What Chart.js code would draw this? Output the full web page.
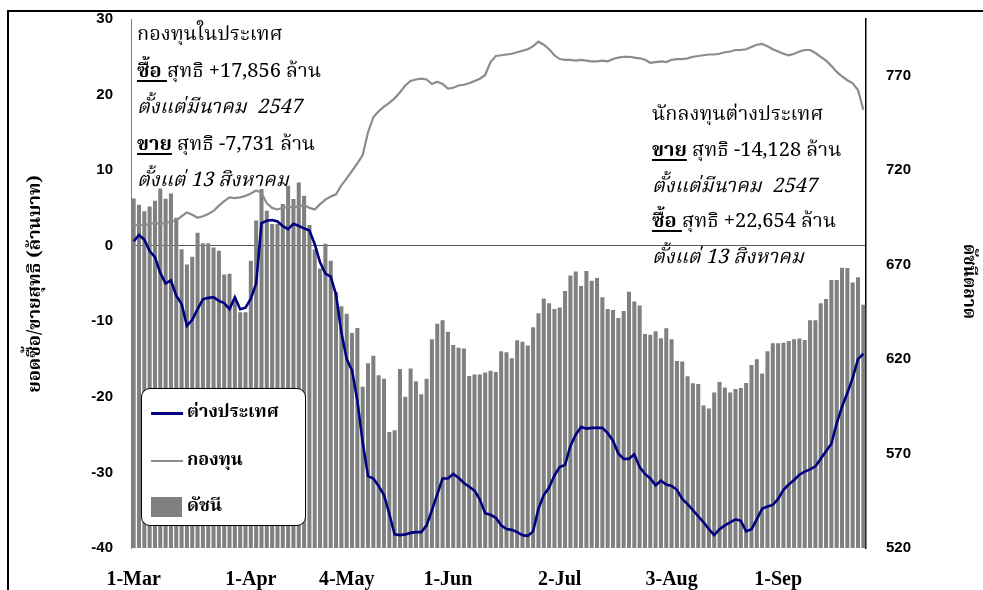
<!DOCTYPE html>
<html>
<head>
<meta charset="utf-8">
<script src="https://cdn.jsdelivr.net/npm/chart.js@4.4.1/dist/chart.umd.min.js"></script>
<style>
  html, body { margin: 0; padding: 0; background: #fff; }
  #wrap { position: relative; width: 983px; height: 590px; overflow: hidden; background: #fff; }
  #frame { position: absolute; left: 7px; top: 10px; width: 1300px; height: 900px; border: 2px solid #000; box-sizing: border-box; pointer-events: none; }
  #chart { position: absolute; left: 0; top: 0; }
  .thai { font-family: "Norasi", "Noto Serif Thai", "Tlwg Typo", "Garuda", "Loma", "Noto Sans Thai", "Liberation Serif", serif; }
  .note { position: absolute; font-size: 20px; color: #000; white-space: nowrap; }
  .note i { font-style: italic; }
  .note u { text-decoration: underline; text-underline-offset: 3px; }
  .note b { font-weight: bold; }
  #legend { position: absolute; left: 141px; top: 388px; width: 165px; height: 138px; border: 1px solid #000; border-radius: 9px; background: #fff; box-sizing: border-box; }
  .lg { position: absolute; left: 9px; height: 30px; font-size: 18px; font-weight: bold; white-space: nowrap; }
  .lg .sw { position: absolute; left: 0; }
  .lg .tx { position: absolute; left: 36px; top: 0; line-height: 30px; }
  .ytitle { position: absolute; font-weight: bold; white-space: nowrap; transform-origin: center center; }
</style>
</head>
<body>
<div id="wrap">
  <canvas id="chart" width="983" height="590"></canvas>
  <div id="frame"></div>

  <div class="note thai" style="left:137px; top:17px; line-height:36.5px;">
    <div>กองทุนในประเทศ</div>
    <div><b><u>ซื้อ </u></b>สุทธิ +17,856 ล้าน</div>
    <div><i>ตั้งแต่มีนาคม&nbsp; 2547</i></div>
    <div><b><u>ขาย</u></b> สุทธิ -7,731 ล้าน</div>
    <div><i>ตั้งแต่ 13 สิงหาคม</i></div>
  </div>

  <div class="note thai" style="left:652px; top:98px; line-height:35.8px;">
    <div>นักลงทุนต่างประเทศ</div>
    <div><b><u>ขาย</u></b> สุทธิ -14,128 ล้าน</div>
    <div><i>ตั้งแต่มีนาคม&nbsp; 2547</i></div>
    <div><b><u>ซื้อ </u></b>สุทธิ +22,654 ล้าน</div>
    <div><i>ตั้งแต่ 13 สิงหาคม</i></div>
  </div>

  <div id="legend" class="thai"></div>

  <div id="ytL" class="ytitle thai" style="font-size:18.5px;"></div>
  <div id="ytR" class="ytitle thai" style="font-size:17px;"></div>
</div>

<script>
// ---------------- DATA ----------------
const dates = [
  "1-Mar","2-Mar","3-Mar","4-Mar","8-Mar","9-Mar","10-Mar","11-Mar","12-Mar","15-Mar","16-Mar","17-Mar","18-Mar","19-Mar","22-Mar","23-Mar","24-Mar","25-Mar","26-Mar","29-Mar","30-Mar","31-Mar",
  "1-Apr","2-Apr","5-Apr","7-Apr","8-Apr","9-Apr","12-Apr","16-Apr","19-Apr","20-Apr","21-Apr","22-Apr","23-Apr","26-Apr","27-Apr","28-Apr","29-Apr","30-Apr",
  "4-May","6-May","7-May","10-May","11-May","12-May","13-May","14-May","17-May","18-May","19-May","20-May","21-May","24-May","25-May","26-May","27-May","28-May","31-May",
  "1-Jun","3-Jun","4-Jun","7-Jun","8-Jun","9-Jun","10-Jun","11-Jun","14-Jun","15-Jun","16-Jun","17-Jun","18-Jun","21-Jun","22-Jun","23-Jun","24-Jun","25-Jun","28-Jun","29-Jun","30-Jun",
  "2-Jul","5-Jul","6-Jul","7-Jul","8-Jul","9-Jul","12-Jul","13-Jul","14-Jul","15-Jul","16-Jul","19-Jul","20-Jul","21-Jul","22-Jul","23-Jul","26-Jul","27-Jul","28-Jul","29-Jul","30-Jul",
  "3-Aug","4-Aug","5-Aug","6-Aug","9-Aug","10-Aug","11-Aug","13-Aug","16-Aug","17-Aug","18-Aug","19-Aug","20-Aug","23-Aug","24-Aug","25-Aug","26-Aug","27-Aug","30-Aug","31-Aug",
  "1-Sep","2-Sep","3-Sep","6-Sep","7-Sep","8-Sep","9-Sep","10-Sep","13-Sep","14-Sep","15-Sep","16-Sep","17-Sep","20-Sep","21-Sep","22-Sep","23-Sep"
];

const monthTickLabels = ["1-Mar","1-Apr","4-May","1-Jun","2-Jul","3-Aug","1-Sep"];

// Net buy/sell, foreign investors (million baht, left axis)
const foreignNet = [
  0.6, 1.4, 0.8, -0.7, -1.5, -3.6, -5.0, -4.6, -6.6, -7.7,
  -10.6, -9.8, -8.4, -7.1, -6.9, -6.8, -7.3, -7.6, -8.4, -6.8,
  -8.4, -8.2, -7.0, -5.0, 3.0, 3.3, 3.4, 3.2, 2.6, 2.2,
  2.9, 2.6, 2.3, 2.0, 0.2, -2.2, -3.7, -4.1, -6.5, -11.5,
  -15.0, -16.5, -20.5, -26.0, -30.5, -30.8, -31.8, -33.0, -35.5, -38.2,
  -38.3, -38.2, -38.0, -37.9, -37.9, -37.0, -35.0, -32.9, -30.8, -30.8,
  -30.2, -30.7, -31.4, -31.9, -32.4, -33.6, -35.4, -35.6, -36.0, -37.0,
  -37.5, -37.6, -37.9, -38.3, -38.4, -37.8, -34.8, -33.0, -32.0, -30.4,
  -29.3, -29.0, -26.5, -25.0, -24.0, -24.2, -24.1, -24.1, -24.1, -24.8,
  -25.8, -27.5, -28.2, -28.2, -27.6, -29.3, -30.2, -30.8, -31.7, -31.1,
  -31.6, -31.8, -32.3, -33.5, -34.2, -35.0, -35.8, -36.6, -37.5, -38.3,
  -37.5, -37.0, -36.6, -36.2, -36.4, -37.8, -37.5, -36.2, -34.8, -34.5,
  -34.3, -33.5, -32.3, -31.6, -31.0, -30.3, -29.9, -29.6, -29.2, -28.2,
  -27.2, -26.2, -23.5, -21.3, -19.5, -17.5, -15.0, -14.3
];

// Net buy/sell, domestic funds (million baht, left axis)
const fundNet = [
  2.6, 2.8, 2.7, 2.9, 3.0, 2.9, 3.0, 3.2, 3.3, 3.9,
  4.4, 4.1, 3.7, 3.9, 4.2, 4.6, 5.3, 5.9, 6.4, 6.3,
  6.4, 6.6, 6.9, 7.3, 7.0, 5.6, 5.0, 4.8, 5.0, 5.1,
  5.1, 5.2, 5.4, 5.0, 4.8, 5.5, 6.1, 6.5, 6.8, 8.0,
  8.9, 9.9, 10.9, 12.0, 15.0, 17.0, 17.8, 18.4, 18.9, 19.5,
  20.3, 21.2, 21.8, 22.0, 22.1, 22.0, 21.4, 21.7, 21.4, 20.8,
  20.9, 21.2, 21.3, 21.5, 21.8, 22.1, 22.6, 24.3, 25.1, 25.2,
  25.3, 25.4, 25.6, 25.8, 26.0, 26.4, 27.0, 26.6, 26.0, 25.2,
  24.7, 24.6, 24.6, 24.5, 24.6, 24.5, 24.4, 24.4, 24.5, 24.4,
  24.7, 24.9, 25.0, 25.0, 24.9, 24.8, 24.6, 24.2, 24.3, 24.4,
  24.3, 24.6, 24.7, 24.7, 24.8, 25.0, 25.1, 25.2, 25.3, 25.3,
  25.4, 25.6, 25.7, 25.9, 25.9, 26.0, 26.3, 26.6, 26.7, 26.4,
  26.0, 25.7, 25.4, 25.2, 25.4, 25.7, 25.9, 25.9, 25.5, 25.0,
  24.5, 23.8, 23.0, 22.4, 21.9, 21.5, 20.6, 18.0
];

// SET index (right axis)
const setIndex = [
  705.0, 701.7, 698.2, 700.8, 703.8, 710.3, 704.9, 707.7, 694.8, 678.1,
  670.0, 674.2, 686.9, 681.3, 681.3, 679.1, 677.4, 664.7, 665.2, 652.0,
  644.8, 644.8, 672.1, 693.3, 710.0, 698.5, 691.5, 691.5, 702.1, 711.8,
  704.7, 713.5, 706.5, 691.0, 678.0, 668.0, 681.0, 672.0, 655.5, 648.0,
  644.0, 633.8, 636.5, 605.4, 617.8, 621.8, 611.4, 609.6, 581.4, 582.3,
  614.7, 600.0, 615.0, 608.3, 601.4, 609.6, 630.5, 638.7, 640.5, 634.5,
  627.5, 626.0, 625.6, 611.1, 611.8, 611.8, 612.9, 613.8, 613.2, 624.2,
  623.6, 620.5, 630.0, 629.2, 627.2, 636.9, 644.2, 652.0, 649.6, 646.5,
  647.3, 656.0, 664.2, 666.4, 658.7, 666.6, 661.5, 662.9, 652.7, 646.5,
  646.0, 641.8, 645.4, 655.6, 650.5, 648.4, 633.3, 632.9, 634.7, 631.0,
  636.3, 630.5, 619.0, 618.7, 610.9, 607.2, 606.8, 595.4, 593.8, 602.3,
  607.8, 605.0, 602.3, 604.1, 604.7, 607.4, 616.9, 619.9, 612.3, 624.2,
  628.4, 628.4, 628.7, 629.5, 630.5, 630.9, 630.1, 640.5, 640.5, 649.6,
  651.8, 661.8, 661.8, 668.4, 668.2, 660.5, 663.3, 648.7
];

const leftTicks = [-40, -30, -20, -10, 0, 10, 20, 30];
const rightTicks = [520, 570, 620, 670, 720, 770];

const seriesNames = ["ต่างประเทศ", "กองทุน", "ดัชนี"];
const leftTitle = "ยอดซื้อ/ขายสุทธิ (ล้านบาท)";
const rightTitle = "ดัชนีตลาด";

// ---------------- CHART ----------------
const BLUE = "#000080", LINEGRAY = "#8c8c8c", BARGRAY = "#808080";
const tickFont = { family: "'Liberation Sans', Arial, sans-serif", size: 15, weight: "bold" };

const chart = new Chart(document.getElementById("chart"), {
  type: "bar",
  data: {
    labels: dates,
    datasets: [
      { type: "line", label: seriesNames[0], data: foreignNet, yAxisID: "y",
        borderColor: BLUE, borderWidth: 2.6, pointRadius: 0, tension: 0, order: 0 },
      { type: "line", label: seriesNames[1], data: fundNet, yAxisID: "y",
        borderColor: LINEGRAY, borderWidth: 2.2, pointRadius: 0, tension: 0, order: 1 },
      { type: "bar", label: seriesNames[2], data: setIndex, yAxisID: "y1",
        backgroundColor: BARGRAY, borderWidth: 0, barPercentage: 0.76, categoryPercentage: 1.0, order: 2 }
    ]
  },
  options: {
    responsive: false,
    animation: false,
    devicePixelRatio: 1,
    layout: { padding: { top: 19, left: 0, right: 0, bottom: 0 } },
    plugins: { legend: { display: false }, tooltip: { enabled: false } },
    scales: {
      x: {
        type: "category",
        offset: true,
        grid: { display: false },
        border: { display: false },
        ticks: {
          autoSkip: false, maxRotation: 0, minRotation: 0, padding: 12,
          color: "#000",
          font: { family: "'Liberation Serif', 'Times New Roman', serif", size: 20, weight: "bold" },
          callback: function (val, idx) {
            const l = dates[idx];
            return monthTickLabels.includes(l) ? l : "";
          }
        },
        afterFit: s => { s.height = 42; s.paddingLeft = 0; s.paddingRight = 0; }
      },
      y: {
        position: "left",
        min: -40, max: 30,
        z: 1,
        afterBuildTicks: s => { s.ticks = leftTicks.map(v => ({ value: v })); },
        grid: {
          drawTicks: false,
          color: c => (c.tick && c.tick.value === 0) ? "#5a5a5a" : "rgba(0,0,0,0)",
          lineWidth: 1
        },
        border: { display: true, color: "#808080", width: 1 },
        ticks: { padding: 18, color: "#000", font: tickFont },
        afterFit: s => { s.width = 131; s.paddingTop = 0; s.paddingBottom = 0; }
      },
      y1: {
        position: "right",
        min: 520, max: 800,
        afterBuildTicks: s => { s.ticks = rightTicks.map(v => ({ value: v })); },
        grid: { drawOnChartArea: false, drawTicks: false },
        border: { display: true, color: "#000", width: 1.5 },
        ticks: { padding: 20, color: "#000", font: tickFont },
        afterFit: s => { s.width = 117; s.paddingTop = 0; s.paddingBottom = 0; }
      }
    }
  }
});

// ---------------- HTML legend (built from the chart's datasets) ----------------
(function buildLegend() {
  const lg = document.getElementById("legend");
  const rowsTop = [9, 57, 103];
  chart.data.datasets.forEach((ds, i) => {
    const row = document.createElement("div");
    row.className = "lg";
    row.style.top = rowsTop[i] + "px";
    const sw = document.createElement("div");
    sw.className = "sw";
    if (ds.type === "line") {
      sw.style.top = "14px"; sw.style.width = "32px"; sw.style.height = "0";
      sw.style.borderTop = (i === 0 ? 3 : 2.5) + "px solid " + ds.borderColor;
    } else {
      sw.style.top = "5px"; sw.style.width = "31px"; sw.style.height = "20px";
      sw.style.background = ds.backgroundColor;
    }
    const tx = document.createElement("div");
    tx.className = "tx";
    tx.textContent = ds.label;
    row.appendChild(sw); row.appendChild(tx);
    lg.appendChild(row);
  });
})();

// ---------------- Axis titles ----------------
(function titles() {
  const a = chart.chartArea;
  const midY = (a.top + a.bottom) / 2;
  const L = document.getElementById("ytL");
  L.textContent = leftTitle;
  const R = document.getElementById("ytR");
  R.textContent = rightTitle;
  const wL = L.offsetWidth, hL = L.offsetHeight;
  L.style.left = (35 - wL / 2) + "px";
  L.style.top = (midY - hL / 2) + "px";
  L.style.transform = "rotate(-90deg)";
  const wR = R.offsetWidth, hR = R.offsetHeight;
  R.style.left = (968 - wR / 2) + "px";
  R.style.top = (midY - 2 - hR / 2) + "px";
  R.style.transform = "rotate(90deg)";
})();
</script>
</body>
</html>
